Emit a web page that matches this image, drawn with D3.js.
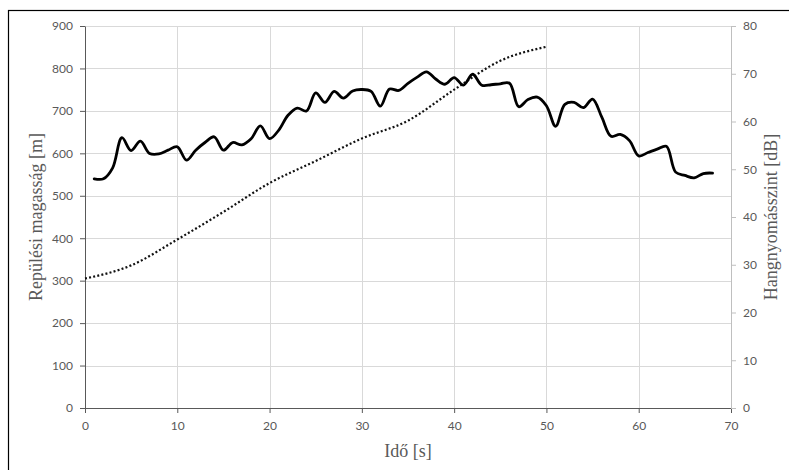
<!DOCTYPE html>
<html><head><meta charset="utf-8">
<script src="https://cdn.jsdelivr.net/npm/d3@7"></script>
<style>
html,body{margin:0;padding:0;background:#fff;}
svg{display:block;}
</style></head>
<body>
<svg id="chart" width="789" height="470"></svg>
<script>
// Time [s] for the sound-level series (solid line, right axis)
const timeSound = [1,2,3,4,5,6,7,8,9,10,11,12,13,14,15,16,17,18,19,20,21,22,23,24,25,26,27,28,29,30,31,32,33,34,35,36,37,38,39,40,41,42,43,44,45,46,47,48,49,50,51,52,53,54,55,56,57,58,59,60,61,62,63,64,65,66,67,68];
// Hangnyomásszint [dB]
const soundLevel = [48.0,48.0,50.3,56.6,53.9,55.9,53.3,53.2,54.0,54.7,51.9,54.0,55.6,56.8,54.0,55.6,55.1,56.4,59.1,56.4,58.2,61.3,62.8,62.2,66.0,64.0,66.3,64.9,66.4,66.7,66.3,63.2,66.8,66.5,68.0,69.3,70.4,68.9,67.8,69.2,67.6,69.9,67.6,67.7,67.9,68.0,63.1,64.6,65.1,63.3,59.0,63.6,64.0,62.9,64.7,60.9,56.9,57.3,56.0,52.8,53.5,54.2,54.8,49.4,48.7,48.2,49.1,49.2];
// Time [s] for the altitude series (dotted line, left axis)
const timeAlt = [0,5,10,15,20,25,30,35,40,45,50];
// Repülési magasság [m]
const altitude = [305,336,397,462,530,582,635,677,750,818,851];

const xTicks = [0,10,20,30,40,50,60,70];
const yLeftTicks = [0,100,200,300,400,500,600,700,800,900];
const yRightTicks = [0,10,20,30,40,50,60,70,80];

const xTitle = "Idő [s]";
const yLeftTitle = "Repülési magasság [m]";
const yRightTitle = "Hangnyomásszint [dB]";

const svg = d3.select("#chart");
const m = {left:85, right:731, top:26, bottom:408};

const x = d3.scaleLinear().domain([0,70]).range([m.left, m.right]);
const yL = d3.scaleLinear().domain([0,900]).range([m.bottom, m.top]);
const yR = d3.scaleLinear().domain([0,80]).range([m.bottom, m.top]);

// outer frame
svg.append("rect").attr("x",8.5).attr("y",10.5).attr("width",800).attr("height",480)
  .attr("fill","none").attr("stroke","#000").attr("stroke-width",1.2);

// gridlines
const g = svg.append("g");
g.selectAll("line.h").data(yLeftTicks.filter(d=>d>0)).join("line")
  .attr("x1",m.left).attr("x2",m.right)
  .attr("y1",d=>Math.round(yL(d))+0.5).attr("y2",d=>Math.round(yL(d))+0.5)
  .attr("stroke","#d9d9d9").attr("stroke-width",1);
g.selectAll("line.v").data(xTicks.filter(d=>d>0 && d<70)).join("line")
  .attr("y1",m.top).attr("y2",m.bottom)
  .attr("x1",d=>Math.round(x(d))+0.5).attr("x2",d=>Math.round(x(d))+0.5)
  .attr("stroke","#d9d9d9").attr("stroke-width",1);

const tickFont = "Lato, 'Open Sans', sans-serif";
function styleAxis(sel, color){
  sel.select(".domain").attr("stroke",color);
  sel.selectAll(".tick line").attr("stroke",color);
  sel.selectAll(".tick text").attr("fill","#595959").style("font-family",tickFont).style("font-size","12px");
}

const axB = svg.append("g").attr("transform",`translate(0,${m.bottom})`)
  .call(d3.axisBottom(x).tickValues(xTicks).tickSize(5).tickSizeOuter(0).tickPadding(8));
styleAxis(axB,"#595959");
const axL = svg.append("g").attr("transform",`translate(${m.left},0)`)
  .call(d3.axisLeft(yL).tickValues(yLeftTicks).tickSize(5).tickSizeOuter(0).tickPadding(7));
styleAxis(axL,"#595959");
const axR = svg.append("g").attr("transform",`translate(${m.right},0)`)
  .call(d3.axisRight(yR).tickValues(yRightTicks).tickSize(5).tickSizeOuter(0).tickPadding(7));
styleAxis(axR,"#bfbfbf");

// lines
const altLine = d3.line().x((d,i)=>x(timeAlt[i])).y(d=>yL(d)).curve(d3.curveMonotoneX);
svg.append("path").datum(altitude).attr("d",altLine)
  .attr("fill","none").attr("stroke","#111").attr("stroke-width",2.2)
  .attr("stroke-dasharray","2,2.2");

const soundLine = d3.line().x((d,i)=>x(timeSound[i])).y(d=>yR(d)).curve(d3.curveCatmullRom.alpha(0.5));
svg.append("path").datum(soundLevel).attr("d",soundLine)
  .attr("fill","none").attr("stroke","#000").attr("stroke-width",2.8)
  .attr("stroke-linejoin","round").attr("stroke-linecap","round");

// titles
const titleFont = "'Liberation Serif', 'DejaVu Serif', serif";
svg.append("text").attr("x",(m.left+m.right)/2).attr("y",457).attr("text-anchor","middle")
  .attr("fill","#595959").style("font-family",titleFont).style("font-size","18px").text(xTitle);
svg.append("text").attr("transform",`translate(42,${(m.top+m.bottom)/2}) rotate(-90)`).attr("text-anchor","middle")
  .attr("fill","#595959").style("font-family",titleFont).style("font-size","18px").text(yLeftTitle);
svg.append("text").attr("transform",`translate(777,${(m.top+m.bottom)/2}) rotate(-90)`).attr("text-anchor","middle")
  .attr("fill","#595959").style("font-family",titleFont).style("font-size","18px").text(yRightTitle);
</script>
</body></html>
